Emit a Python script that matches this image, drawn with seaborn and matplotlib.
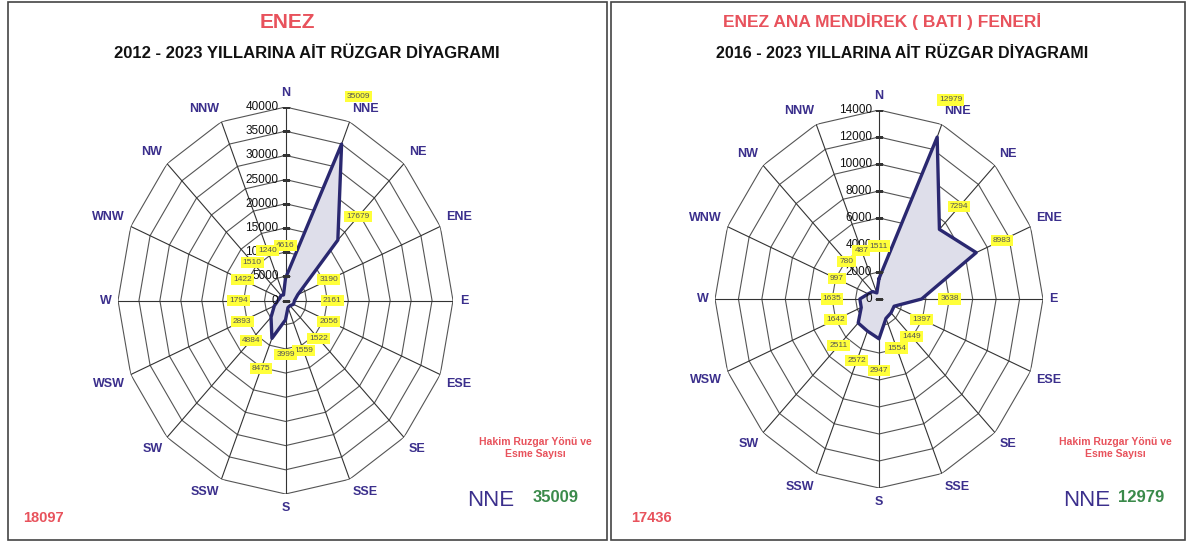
import numpy as np
import pandas as pd
import seaborn as sns
import matplotlib.pyplot as plt
from matplotlib.patches import Rectangle

sns.set_theme(style="white")
plt.rcParams['font.family'] = ['Liberation Sans', 'DejaVu Sans']

directions = ['N', 'NNE', 'NE', 'ENE', 'E', 'ESE', 'SE', 'SSE',
              'S', 'SSW', 'SW', 'WSW', 'W', 'WNW', 'NW', 'NNW']
enez_counts = [4616, 35009, 17679, 3190, 2161, 2056, 1522, 1559,
               3999, 8475, 4884, 2893, 1794, 1422, 1510, 1240]
mendirek_counts = [1511, 12979, 7294, 8983, 3638, 1397, 1449, 1554,
                   2947, 2572, 2511, 1642, 1635, 997, 780, 487]

titles = ['ENEZ', 'ENEZ ANA MENDİREK ( BATI ) FENERİ']
subtitles = ['2012 - 2023 YILLARINA AİT RÜZGAR DİYAGRAMI',
             '2016 - 2023 YILLARINA AİT RÜZGAR DİYAGRAMI']
ring_max = [40000, 14000]
ring_step = [5000, 2000]
dominant_dir = ['NNE', 'NNE']
dominant_count = [35009, 12979]
corner_numbers = ['18097', '17436']

RED = '#e8525c'
NAVY = '#3b2f8c'
GREEN = '#3a8a4a'
W, H = 1186, 543

fig = plt.figure(figsize=(W / 100, H / 100), dpi=100)


def fx(x):
    return x / W


def fy(y):
    return 1 - y / H


def rose(rect, counts, rmax, step):
    ax = fig.add_axes(rect, projection='polar')
    ax.set_theta_zero_location('N')
    ax.set_theta_direction(-1)
    ax.set_aspect('auto')
    ax.grid(False)
    ax.set_xticks([])
    ax.set_yticks([])
    ax.spines['polar'].set_visible(False)
    ax.set_facecolor('none')

    theta = np.deg2rad(np.arange(16) * 22.5)
    theta_c = np.append(theta, 2 * np.pi)
    levels = np.arange(step, rmax + 1, step)

    for lv in levels:
        ax.plot(theta_c, [lv] * 17, color='#555555', lw=0.8, zorder=1)
    for th in theta:
        ax.plot([th, th], [0, rmax], color='#333333', lw=0.8, zorder=1)

    df = pd.DataFrame({'theta': theta_c, 'count': counts + counts[:1]})
    ax.fill(df['theta'], df['count'], color='#dedeea', zorder=2)
    sns.lineplot(data=df, x='theta', y='count', sort=False, estimator=None,
                 color='#2a2870', lw=2.4, ax=ax, zorder=3)
    ax.set_xlabel('')
    ax.set_ylabel('')
    ax.set_ylim(0, rmax)

    # radial axis labels on the N spoke
    for lv in np.append(0, levels):
        ax.plot([0], [lv], marker='_', ms=6, mew=0.8, color='#333333', zorder=3)
        ax.annotate(f'{lv}', (0, lv), xytext=(-5, 0), textcoords='offset points',
                    ha='right', va='center', fontsize=8.5, color='#111111', zorder=5)

    # direction names
    for th, d in zip(theta, directions):
        s, c = np.sin(th), np.cos(th)
        ha = 'left' if s > 0.1 else ('right' if s < -0.1 else 'center')
        va = 'bottom' if c > 0.1 else ('top' if c < -0.1 else 'center')
        ax.text(th, rmax * 1.04, d, ha=ha, va=va, fontsize=9, fontweight='bold',
                color=NAVY)

    # yellow value labels
    for th, v in zip(theta, counts):
        r = max(v + 0.17 * rmax, 0.28 * rmax)
        if r > rmax:
            r = max(r, 1.14 * rmax)
        ax.text(th, r, f'{v}', ha='center', va='center', fontsize=6,
                color='#555555', clip_on=False,
                bbox=dict(boxstyle='square,pad=0.25', fc='#ffff3a', ec='none'), zorder=6)
    return ax


rose([fx(118), fy(494), fx(453) - fx(118), fy(107) - fy(494)],
     enez_counts, ring_max[0], ring_step[0])
rose([fx(715), fy(488), fx(1043) - fx(715), fy(110) - fy(488)],
     mendirek_counts, ring_max[1], ring_step[1])

# panel frames
for x0, x1 in [(8, 607), (611, 1185)]:
    fig.patches.append(Rectangle((fx(x0), fy(540)), fx(x1) - fx(x0), fy(2) - fy(540),
                                 transform=fig.transFigure, fill=False,
                                 ec='#444444', lw=1.2))

centers = [287, 882]
title_sizes = [15, 12.5]
sub_centers = [307, 902]
sub_sizes = [12, 11.5]
right_note = [535, 1115]
dom_x = [491, 1087]
cnt_x = [556, 1141]
corner_x = [43, 651]
for i in range(2):
    fig.text(fx(centers[i]), fy(22), titles[i], ha='center', va='center',
             fontsize=title_sizes[i], fontweight='bold', color=RED)
    fig.text(fx(sub_centers[i]), fy(54), subtitles[i], ha='center', va='center',
             fontsize=sub_sizes[i], fontweight='bold', color='#111111')
    fig.text(fx(right_note[i]), fy(448), 'Hakim Ruzgar Yönü ve\nEsme Sayısı',
             ha='center', va='center', fontsize=7.5, fontweight='bold', color=RED,
             linespacing=1.3)
    fig.text(fx(dom_x[i]), fy(500), dominant_dir[i], ha='center', va='center',
             fontsize=16, color=NAVY)
    fig.text(fx(cnt_x[i]), fy(498), f'{dominant_count[i]}', ha='center', va='center',
             fontsize=12, fontweight='bold', color=GREEN)
    fig.text(fx(corner_x[i]), fy(518), corner_numbers[i], ha='center', va='center',
             fontsize=10.5, fontweight='bold', color=RED)

fig.savefig('out.png', dpi=100)
